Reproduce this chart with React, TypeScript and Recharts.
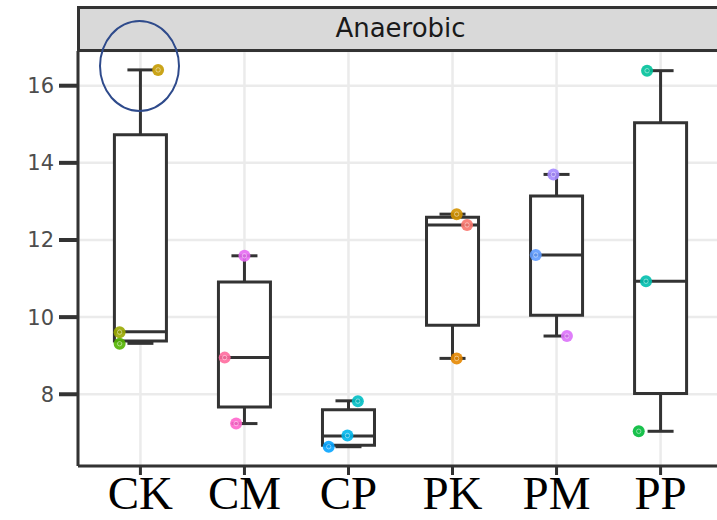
import {
  ComposedChart,
  XAxis,
  YAxis,
  CartesianGrid,
  ReferenceArea,
  ReferenceLine,
  Scatter,
} from "recharts";

const categories = ["CK", "CM", "CP", "PK", "PM", "PP"];

// box statistics per group
const whiskerLow = [9.32, 7.24, 6.64, 8.93, 9.51, 7.04];
const lowerQuartile = [9.38, 7.67, 6.68, 9.79, 10.05, 8.02];
const median = [9.62, 8.95, 6.92, 12.39, 11.61, 10.93];
const upperQuartile = [14.73, 10.91, 7.6, 12.59, 13.14, 15.04];
const whiskerHigh = [16.41, 11.59, 7.83, 12.67, 13.7, 16.39];

// individual samples (jittered) per group
const sampleValues = [
  [16.41, 9.61, 9.31],
  [11.59, 8.95, 7.24],
  [7.82, 6.93, 6.64],
  [12.67, 12.39, 8.93],
  [13.7, 11.61, 9.51],
  [16.39, 10.93, 7.04],
];
const sampleJitter = [
  [0.17, -0.2, -0.2],
  [0.0, -0.19, -0.08],
  [0.09, -0.01, -0.19],
  [0.04, 0.14, 0.04],
  [-0.03, -0.2, 0.1],
  [-0.13, -0.14, -0.21],
];
const sampleColors = [
  ["#C49A00", "#99A800", "#53B400"],
  ["#E76BF3", "#FF6C9E", "#FF66CC"],
  ["#00BFC4", "#00B6EB", "#06A4FF"],
  ["#D39200", "#F8766D", "#E58700"],
  ["#A58AFF", "#619CFF", "#DC71FA"],
  ["#00C19A", "#00BFAE", "#00BA38"],
];

const yTicks = [8, 10, 12, 14, 16];
const xTicks = [1, 2, 3, 4, 5, 6];

const BOX_HALF = 0.25;
const CAP_HALF = 0.125;
const LINE = "#333333";
const BOX_STROKE = 3;

const points = sampleValues.flatMap((vals, i) =>
  vals.map((v, j) => ({
    x: i + 1 + sampleJitter[i][j],
    y: v,
    color: sampleColors[i][j],
  }))
);

function SampleDot(props: any) {
  const { cx, cy, payload } = props;
  if (cx == null || cy == null) return null;
  return (
    <g>
      <circle cx={cx} cy={cy} r={6} fill={payload.color} fillOpacity={0.9} />
      <circle
        cx={cx}
        cy={cy}
        r={2.2}
        fill="none"
        stroke="#ffffff"
        strokeOpacity={0.45}
        strokeWidth={1}
      />
    </g>
  );
}

export default function App() {
  return (
    <div
      style={{
        position: "absolute",
        left: 0,
        top: 0,
        width: 717,
        height: 520,
        overflow: "hidden",
        background: "#ffffff",
      }}
    >
      <ComposedChart
        width={730}
        height={520}
        margin={{ top: 51, right: 7, bottom: 0, left: 0 }}
      >
        <CartesianGrid stroke="#EBEBEB" strokeWidth={2.5} />
        <XAxis
          dataKey="x"
          type="number"
          domain={[0.4, 6.6]}
          ticks={xTicks}
          allowDataOverflow
          interval={0}
          tickFormatter={(v: number) => categories[v - 1]}
          height={54}
          axisLine={{ stroke: LINE, strokeWidth: 3 }}
          tickLine={{ stroke: LINE, strokeWidth: 3 }}
          tickSize={9}
          tickMargin={1}
          tick={{
            fill: "#000000",
            fontSize: 47,
            fontFamily: "Liberation Serif, Times New Roman, serif",
          }}
        />
        <YAxis
          type="number"
          domain={[6.14, 16.9]}
          ticks={yTicks}
          allowDataOverflow
          width={78}
          axisLine={{ stroke: LINE, strokeWidth: 3 }}
          tickLine={{ stroke: LINE, strokeWidth: 4 }}
          tickSize={19}
          tickMargin={5}
          tick={{
            fill: "#4D4D4D",
            fontSize: 21,
            fontFamily: "DejaVu Sans, Verdana, sans-serif",
          }}
        />

        {categories.map((c, i) => {
          const x = i + 1;
          return [
            <ReferenceLine
              key={c + "-wu"}
              segment={[
                { x, y: upperQuartile[i] },
                { x, y: whiskerHigh[i] },
              ]}
              stroke={LINE}
              strokeWidth={BOX_STROKE}
            />,
            <ReferenceLine
              key={c + "-wl"}
              segment={[
                { x, y: whiskerLow[i] },
                { x, y: lowerQuartile[i] },
              ]}
              stroke={LINE}
              strokeWidth={BOX_STROKE}
            />,
            <ReferenceLine
              key={c + "-cu"}
              segment={[
                { x: x - CAP_HALF, y: whiskerHigh[i] },
                { x: x + CAP_HALF, y: whiskerHigh[i] },
              ]}
              stroke={LINE}
              strokeWidth={BOX_STROKE}
            />,
            <ReferenceLine
              key={c + "-cl"}
              segment={[
                { x: x - CAP_HALF, y: whiskerLow[i] },
                { x: x + CAP_HALF, y: whiskerLow[i] },
              ]}
              stroke={LINE}
              strokeWidth={BOX_STROKE}
            />,
            <ReferenceArea
              key={c + "-box"}
              x1={x - BOX_HALF}
              x2={x + BOX_HALF}
              y1={lowerQuartile[i]}
              y2={upperQuartile[i]}
              fill="#ffffff"
              fillOpacity={1}
              stroke={LINE}
              strokeWidth={BOX_STROKE}
            />,
            <ReferenceLine
              key={c + "-med"}
              segment={[
                { x: x - BOX_HALF, y: median[i] },
                { x: x + BOX_HALF, y: median[i] },
              ]}
              stroke={LINE}
              strokeWidth={BOX_STROKE}
            />,
          ];
        })}

        <Scatter
          data={points}
          dataKey="y"
          isAnimationActive={false}
          shape={<SampleDot />}
        />
      </ComposedChart>

      {/* facet strip */}
      <div
        style={{
          position: "absolute",
          left: 77,
          top: 6,
          width: 660,
          height: 46,
          boxSizing: "border-box",
          background: "#D9D9D9",
          border: `3px solid ${LINE}`,
        }}
      />
      <div
        style={{
          position: "absolute",
          left: 78,
          top: 8,
          width: 645,
          height: 42,
          lineHeight: "40px",
          textAlign: "center",
          fontFamily: "DejaVu Sans, Verdana, sans-serif",
          fontSize: 26,
          color: "#1A1A1A",
        }}
      >
        Anaerobic
      </div>

      {/* hand-drawn highlight around the CK maximum */}
      <div
        style={{
          position: "absolute",
          left: 99,
          top: 20,
          width: 81,
          height: 92,
          boxSizing: "border-box",
          border: "2px solid #2E4A8B",
          borderRadius: "50%",
        }}
      />
    </div>
  );
}
